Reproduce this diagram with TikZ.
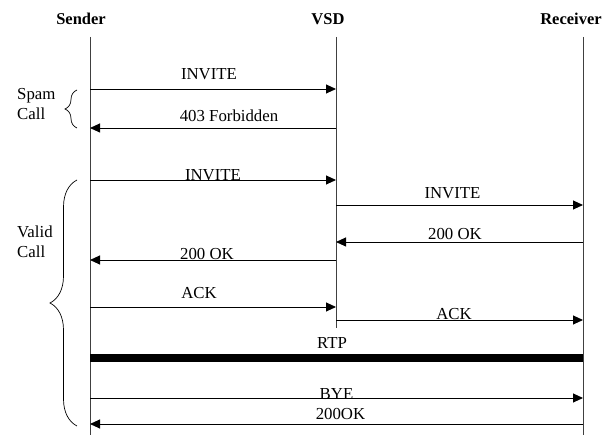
\documentclass[tikz,border=0pt]{standalone}
\usepackage{fontspec}
\setmainfont{Liberation Serif}
\usetikzlibrary{arrows.meta,decorations.pathreplacing}

\begin{document}
\begin{tikzpicture}[x=1pt,y=-1pt,
  msg/.style={-{Triangle[length=10pt,width=9pt]}, line width=0.9pt},
  lbl/.style={font=\fontsize{16.8}{19}\selectfont, inner sep=0pt, anchor=base},
  side/.style={font=\fontsize{16.8}{19}\selectfont, inner sep=0pt, anchor=base west},
  hdr/.style={font=\fontsize{16.5}{19}\selectfont\bfseries, inner sep=0pt, anchor=base},
  life/.style={line width=0.9pt, black!75},
  grp/.style={decorate, decoration={brace, amplitude=#1}, line width=0.7pt}]

\useasboundingbox (0,0) rectangle (611,435);

% headers
\node[hdr] (sender) at (81,25) {Sender};
\node[hdr] (vsd) at (328,25) {VSD};
\node[hdr] (receiver) at (571,25) {Receiver};

% lifelines
\coordinate (S-top) at (90,37);
\coordinate (S-bot) at (90,435);
\coordinate (V-top) at (336,37);
\coordinate (V-bot) at (336,328);
\coordinate (R-top) at (583,37);
\coordinate (R-bot) at (583,435);
\draw[life] (S-top) -- (S-bot);
\draw[life] (V-top) -- (V-bot);
\draw[life] (R-top) -- (R-bot);

% message rows
\foreach \n/\y in {inv1/89,frb/128,inv2/180,inv3/205,ok1/242,ok2/260,ack1/307,ack2/320,rtp/358,bye/398,ok3/424}{
  \coordinate (S-\n) at (90,\y);
  \coordinate (V-\n) at (336,\y);
  \coordinate (R-\n) at (583,\y);
}

% spam call
\draw[msg] (S-inv1) -- node[lbl, xshift=-4pt, yshift=9pt] (l-inv1) {INVITE} (V-inv1);
\draw[msg] (V-frb) -- node[lbl, xshift=16pt, yshift=6pt] (l-frb) {403 Forbidden} (S-frb);

% valid call
\draw[msg] (S-inv2) -- node[lbl, yshift=-1pt] (l-inv2) {INVITE} (V-inv2);
\draw[msg] (V-inv3) -- node[lbl, xshift=-7pt, yshift=6pt] (l-inv3) {INVITE} (R-inv3);
\draw[msg] (R-ok1) -- node[lbl, xshift=-4.5pt, yshift=2pt] (l-ok1) {200 OK} (V-ok1);
\draw[msg] (V-ok2) -- node[lbl, xshift=-6pt] (l-ok2) {200 OK} (S-ok2);
\draw[msg] (S-ack1) -- node[lbl, xshift=-14pt, yshift=8pt] (l-ack1) {ACK} (V-ack1);
\draw[msg] (V-ack2) -- node[lbl, xshift=-5.5pt] (l-ack2) {ACK} (R-ack2);
\draw[line width=8pt] (S-rtp) -- node[lbl, xshift=-4.5pt, yshift=9pt] (l-rtp) {RTP} (R-rtp);
\draw[msg] (S-bye) -- node[lbl, yshift=-2pt] (l-bye) {BYE} (R-bye);
\draw[msg] (R-ok3) -- node[lbl, xshift=4pt, yshift=4pt] (l-ok3) {200OK} (S-ok3);

% groups
\draw[grp=12pt] (77,128) -- (77,90);
\node[side] (spam) at (17,100) {Spam};
\node[side] (spamcall) at (17,120) {Call};

\draw[grp=27pt] (77,426) -- (77,180);
\node[side] (valid) at (17,238) {Valid};
\node[side] (validcall) at (17,258) {Call};

\end{tikzpicture}
\end{document}
